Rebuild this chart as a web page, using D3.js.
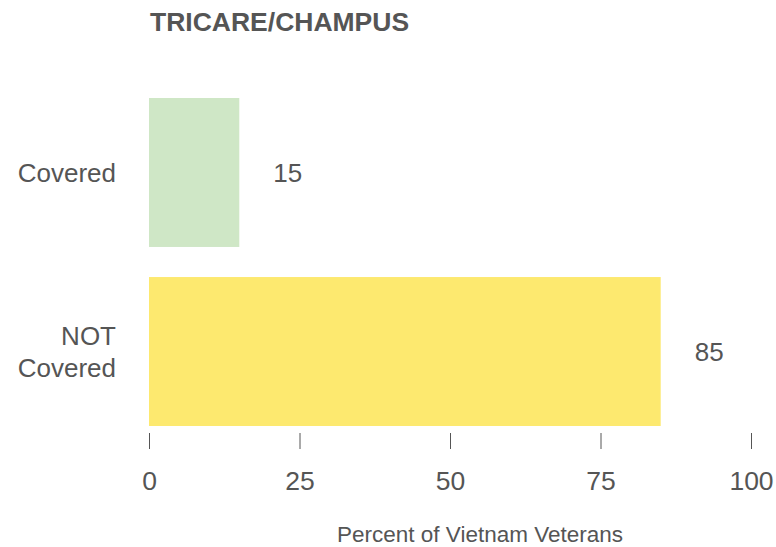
<!DOCTYPE html>
<html>
<head>
<meta charset="utf-8">
<script src="https://cdn.jsdelivr.net/npm/d3@7"></script>
<style>
  body { margin: 0; background: #fff; }
  text { font-family: "Liberation Sans", Arial, sans-serif; fill: #555; }
</style>
</head>
<body>
<script>
var categories = ["Covered", "NOT Covered"];
var values = [15, 85];
var barColors = ["#cfe7c6", "#fde96f"];
var tickValues = [0, 25, 50, 75, 100];

var width = 776;
var height = 547;

var svg = d3.select("body").append("svg")
    .attr("width", width)
    .attr("height", height);

var x = d3.scaleLinear().domain([0, 100]).range([149, 751]);
var y = d3.scaleBand().domain(categories).range([98, 426]).paddingInner(0.168).paddingOuter(0);

// title
svg.append("text")
    .attr("x", 150)
    .attr("y", 31)
    .attr("font-size", "26.5px")
    .attr("font-weight", "bold")
    .text("TRICARE/CHAMPUS");

// bars
svg.selectAll("rect.bar")
    .data(values)
    .enter()
    .append("rect")
    .attr("class", "bar")
    .attr("x", x(0))
    .attr("y", function(d, i) { return y(categories[i]); })
    .attr("width", function(d) { return x(d) - x(0); })
    .attr("height", y.bandwidth())
    .attr("fill", function(d, i) { return barColors[i]; });

// value labels
svg.selectAll("text.val")
    .data(values)
    .enter()
    .append("text")
    .attr("class", "val")
    .attr("x", function(d) { return x(d) + 34; })
    .attr("y", function(d, i) { return y(categories[i]) + y.bandwidth() / 2; })
    .attr("dy", "0.35em")
    .attr("font-size", "26px")
    .text(function(d) { return d; });

// category labels (wrapped by word when needed)
categories.forEach(function(c) {
    var words = c === "NOT Covered" ? ["NOT", "Covered"] : [c];
    var lh = 32;
    var cy = y(c) + y.bandwidth() / 2;
    var t = svg.append("text")
        .attr("text-anchor", "end")
        .attr("font-size", "26px");
    words.forEach(function(w, k) {
        t.append("tspan")
            .attr("x", 116)
            .attr("y", cy + (k - (words.length - 1) / 2) * lh)
            .attr("dy", "0.35em")
            .text(w);
    });
});

// x axis
var axis = svg.append("g")
    .attr("transform", "translate(0,433)")
    .call(d3.axisBottom(x).tickValues(tickValues).tickSize(16).tickPadding(22));
axis.select(".domain").remove();
axis.selectAll(".tick line").attr("stroke", "#555");
axis.selectAll(".tick text")
    .attr("font-size", "26.5px")
    .attr("font-family", "Liberation Sans, Arial, sans-serif")
    .attr("fill", "#555");

svg.append("text")
    .attr("x", x(50) + 30)
    .attr("y", 542)
    .attr("text-anchor", "middle")
    .attr("font-size", "22.5px")
    .text("Percent of Vietnam Veterans");
</script>
</body>
</html>
